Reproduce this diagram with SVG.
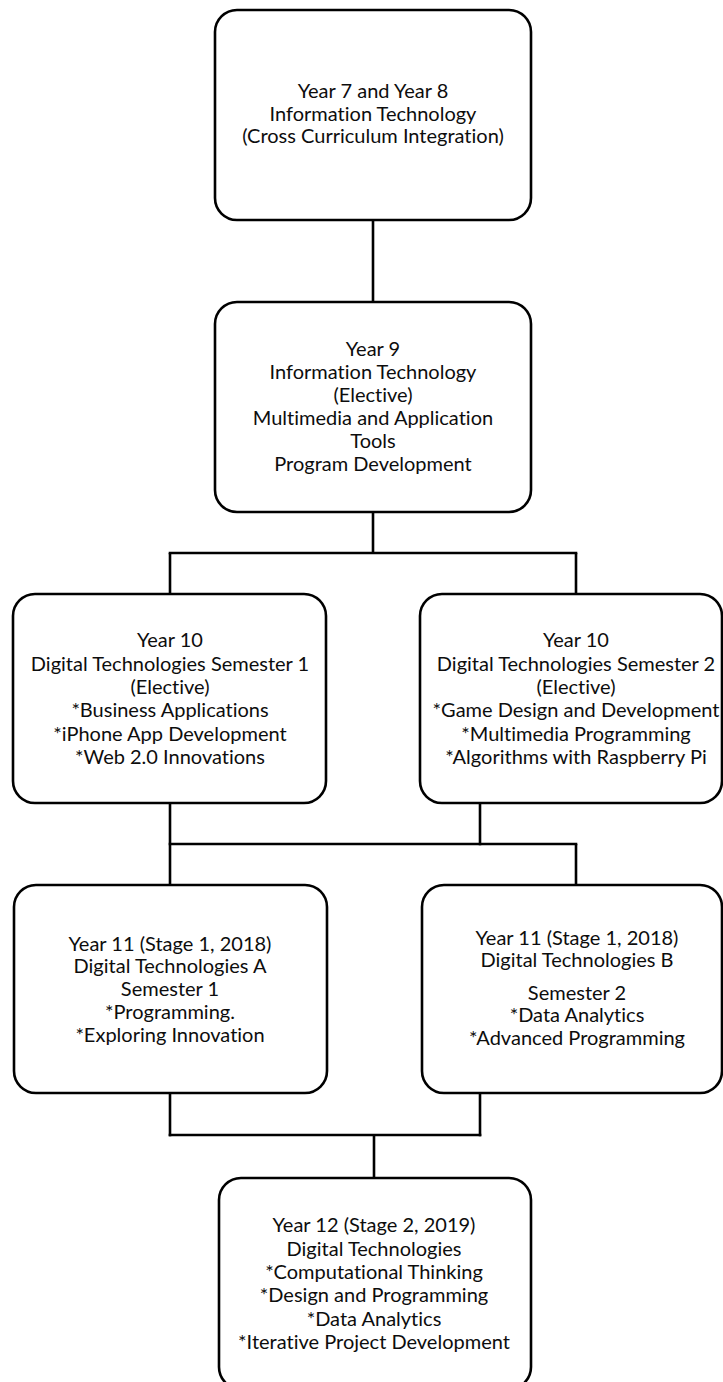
<svg xmlns="http://www.w3.org/2000/svg" width="723" height="1382" viewBox="0 0 723 1382">
  <style>
    .box { fill: #ffffff; stroke: #000000; stroke-width: 2.6; }
    .wire { fill: none; stroke: #000000; stroke-width: 2.6; stroke-linecap: butt; }
    .label { font-family: Lato, "Open Sans", "Liberation Sans", sans-serif; font-size: 20px; fill: #0d0d0d; text-anchor: middle; font-variant-ligatures: none; }
  </style>
  <rect width="723" height="1382" fill="#ffffff"/>

  <!-- connectors between the course stages -->
  <g id="connectors">
    <line class="wire" x1="373" y1="220" x2="373" y2="302"/>
    <line class="wire" x1="373" y1="512" x2="373" y2="553"/>
    <line class="wire" x1="168.7" y1="553" x2="577.3" y2="553"/>
    <line class="wire" x1="170" y1="553" x2="170" y2="594"/>
    <line class="wire" x1="576" y1="553" x2="576" y2="594"/>

    <line class="wire" x1="170" y1="803" x2="170" y2="885"/>
    <line class="wire" x1="480" y1="800" x2="480" y2="845.3"/>
    <line class="wire" x1="168.7" y1="844" x2="577.3" y2="844"/>
    <line class="wire" x1="576" y1="844" x2="576" y2="885"/>

    <line class="wire" x1="170" y1="1093" x2="170" y2="1136.3"/>
    <line class="wire" x1="480" y1="1090" x2="480" y2="1136.3"/>
    <line class="wire" x1="168.7" y1="1135" x2="481.3" y2="1135"/>
    <line class="wire" x1="374" y1="1135" x2="374" y2="1178"/>
  </g>

  <g id="year7-8">
    <rect class="box" x="215" y="10" width="316" height="210" rx="22"/>
    <text class="label" x="373" y="98">Year 7 and Year 8</text>
    <text class="label" x="373" y="120.5">Information Technology</text>
    <text class="label" x="373" y="143">(Cross Curriculum Integration)</text>
  </g>

  <g id="year9">
    <rect class="box" x="215" y="302" width="316" height="210" rx="22"/>
    <text class="label" x="373" y="356">Year 9</text>
    <text class="label" x="373" y="379">Information Technology</text>
    <text class="label" x="373" y="402">(Elective)</text>
    <text class="label" x="373" y="425">Multimedia and Application</text>
    <text class="label" x="373" y="448">Tools</text>
    <text class="label" x="373" y="471">Program Development</text>
  </g>

  <g id="year10-sem1">
    <rect class="box" x="13" y="594" width="313" height="209" rx="22"/>
    <text class="label" x="170" y="647">Year 10</text>
    <text class="label" x="170" y="670.5">Digital Technologies Semester 1</text>
    <text class="label" x="170" y="694">(Elective)</text>
    <text class="label" x="170" y="717">*Business Applications</text>
    <text class="label" x="170" y="740.5">*iPhone App Development</text>
    <text class="label" x="170" y="763.5">*Web 2.0 Innovations</text>
  </g>

  <g id="year10-sem2">
    <rect class="box" x="420" y="594" width="302" height="209" rx="22"/>
    <text class="label" x="576" y="647">Year 10</text>
    <text class="label" x="576" y="670.5">Digital Technologies Semester 2</text>
    <text class="label" x="576" y="694">(Elective)</text>
    <text class="label" x="576" y="717">*Game Design and Development</text>
    <text class="label" x="576" y="740.5">*Multimedia Programming</text>
    <text class="label" x="576" y="763.5">*Algorithms with Raspberry Pi</text>
  </g>

  <g id="year11-a">
    <rect class="box" x="14" y="885" width="313" height="208" rx="22"/>
    <text class="label" x="170" y="950.5">Year 11 (Stage 1, 2018)</text>
    <text class="label" x="170" y="973">Digital Technologies A</text>
    <text class="label" x="170" y="996">Semester 1</text>
    <text class="label" x="170" y="1019">*Programming.</text>
    <text class="label" x="170" y="1041.5">*Exploring Innovation</text>
  </g>

  <g id="year11-b">
    <rect class="box" x="422" y="885" width="300" height="208" rx="22"/>
    <text class="label" x="577" y="945">Year 11 (Stage 1, 2018)</text>
    <text class="label" x="577" y="967">Digital Technologies B</text>
    <text class="label" x="577" y="1000">Semester 2</text>
    <text class="label" x="577" y="1022">*Data Analytics</text>
    <text class="label" x="577" y="1045">*Advanced Programming</text>
  </g>

  <g id="year12">
    <rect class="box" x="219" y="1178" width="312" height="211" rx="22"/>
    <text class="label" x="374" y="1232">Year 12 (Stage 2, 2019)</text>
    <text class="label" x="374" y="1255.5">Digital Technologies</text>
    <text class="label" x="374" y="1279">*Computational Thinking</text>
    <text class="label" x="374" y="1302">*Design and Programming</text>
    <text class="label" x="374" y="1325.5">*Data Analytics</text>
    <text class="label" x="374" y="1349">*Iterative Project Development</text>
  </g>
</svg>
